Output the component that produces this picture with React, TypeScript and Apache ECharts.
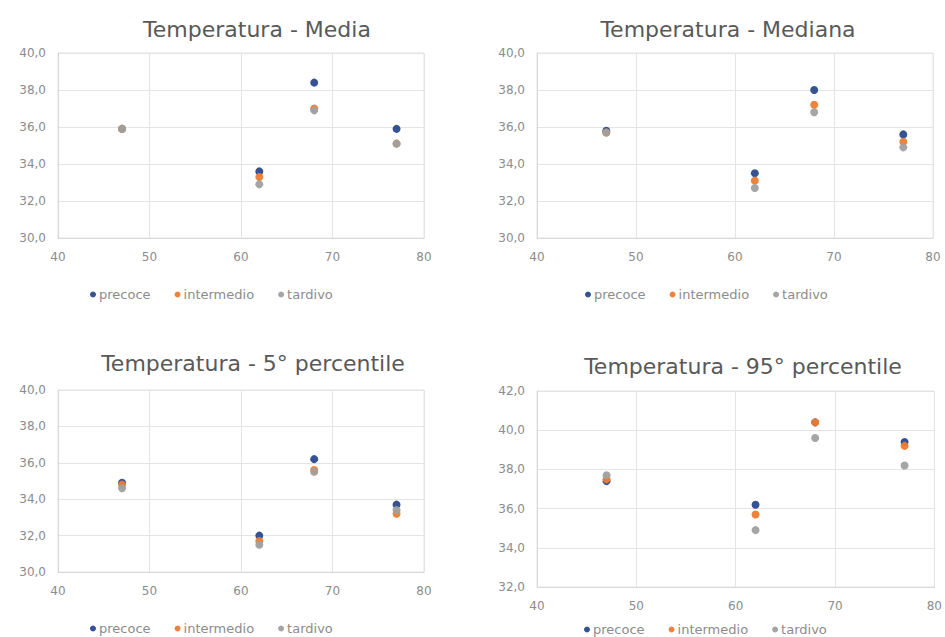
import React, { useEffect, useRef } from "react";
import * as echarts from "echarts";

const seriesNames = ["precoce", "intermedio", "tardivo"];
const colors = ["#2a4a8c", "#ed7d31", "#a0a0a0"];
const xValues = [47, 62, 68, 77];

const titles = [
  "Temperatura - Media",
  "Temperatura - Mediana",
  "Temperatura - 5° percentile",
  "Temperatura - 95° percentile",
];

// Media
const mediaPrecoce = [35.9, 33.6, 38.4, 35.9];
const mediaIntermedio = [35.9, 33.3, 37.0, 35.1];
const mediaTardivo = [35.9, 32.9, 36.9, 35.1];
// Mediana
const medianaPrecoce = [35.8, 33.5, 38.0, 35.6];
const medianaIntermedio = [35.7, 33.1, 37.2, 35.2];
const medianaTardivo = [35.7, 32.7, 36.8, 34.9];
// 5° percentile
const p5Precoce = [34.9, 32.0, 36.2, 33.7];
const p5Intermedio = [34.8, 31.7, 35.6, 33.2];
const p5Tardivo = [34.6, 31.5, 35.5, 33.4];
// 95° percentile
const p95Precoce = [37.4, 36.2, 40.4, 39.4];
const p95Intermedio = [37.5, 35.7, 40.4, 39.2];
const p95Tardivo = [37.7, 34.9, 39.6, 38.2];

const panelData = [
  [mediaPrecoce, mediaIntermedio, mediaTardivo],
  [medianaPrecoce, medianaIntermedio, medianaTardivo],
  [p5Precoce, p5Intermedio, p5Tardivo],
  [p95Precoce, p95Intermedio, p95Tardivo],
];

const xMin = 40, xMax = 80, xStep = 10;
const yRanges = [
  [30, 40],
  [30, 40],
  [30, 40],
  [32, 42],
];

const grids = [
  { left: 58, top: 53, width: 366, height: 185 },
  { left: 537, top: 53, width: 396, height: 185 },
  { left: 58, top: 390, width: 366, height: 182 },
  { left: 537, top: 391, width: 398, height: 196 },
];
const titlePos = [
  { x: 252, y: 13 },
  { x: 723, y: 13 },
  { x: 248, y: 347 },
  { x: 738, y: 350 },
];
const legendPos = [
  { x: 230, y: 288 },
  { x: 725, y: 288 },
  { x: 230, y: 622 },
  { x: 724, y: 623 },
];

const FONT = "'DejaVu Sans', sans-serif";

export default function App() {
  const ref = useRef<HTMLDivElement>(null);
  useEffect(() => {
    if (!ref.current) return;
    const chart = echarts.init(ref.current, undefined, { renderer: "svg" });
    const option: any = {
      animation: false,
      backgroundColor: "#ffffff",
      title: titles.map((t, i) => ({
        text: t,
        left: titlePos[i].x,
        top: titlePos[i].y,
        textAlign: "center",
        textStyle: { fontFamily: FONT, fontSize: 22, fontWeight: "normal", color: "#595959" },
      })),
      legend: legendPos.map((p) => ({
        data: seriesNames,
        left: p.x - 140,
        width: 280,
        top: p.y,
        padding: 0,
        icon: "circle",
        itemWidth: 6,
        itemHeight: 6,
        itemGap: 24,
        textStyle: { fontFamily: FONT, fontSize: 13, color: "#8c8c8c", padding: [0, 0, 0, -2] },
        selectedMode: false,
      })),
      grid: grids.map((g) => ({
        ...g,
        show: true,
        borderColor: "#e4e4e4",
        borderWidth: 1,
      })),
      xAxis: grids.map((_, i) => ({
        type: "value",
        gridIndex: i,
        min: xMin,
        max: xMax,
        interval: xStep,
        axisLine: { show: true, lineStyle: { color: "#d9d9d9" } },
        axisTick: { show: false },
        splitLine: { show: true, lineStyle: { color: "#e4e4e4" } },
        axisLabel: { fontFamily: FONT, fontSize: 12, color: "#8c8c8c", margin: 13 },
      })),
      yAxis: grids.map((_, i) => ({
        type: "value",
        gridIndex: i,
        min: yRanges[i][0],
        max: yRanges[i][1],
        interval: 2,
        axisLine: { show: true, lineStyle: { color: "#d9d9d9" } },
        axisTick: { show: false },
        splitLine: { show: true, lineStyle: { color: "#e4e4e4" } },
        axisLabel: {
          fontFamily: FONT,
          fontSize: 12,
          color: "#8c8c8c",
          margin: 12,
          formatter: (v: number) => v.toFixed(1).replace(".", ","),
        },
      })),
      series: panelData.flatMap((panel, i) =>
        panel.map((vals, s) => ({
          name: seriesNames[s],
          type: "scatter",
          xAxisIndex: i,
          yAxisIndex: i,
          symbol: "circle",
          symbolSize: 8,
          itemStyle: { color: colors[s], opacity: 0.95 },
          data: xValues.map((x, k) => [x, vals[k]]),
        }))
      ),
      color: colors,
    };
    chart.setOption(option);
    return () => chart.dispose();
  }, []);
  return (
    <div
      ref={ref}
      style={{ position: "absolute", left: 0, top: 0, width: 945, height: 637 }}
    />
  );
}
